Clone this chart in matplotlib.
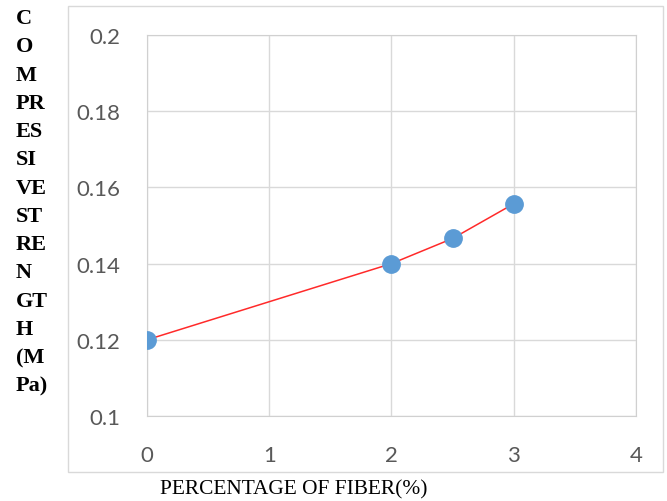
import numpy as np
import matplotlib.pyplot as plt
from matplotlib.patches import Rectangle

# fibre content (%) vs compressive strength (MPa)
fiber = [0, 2, 2.5, 3]
strength = [0.12, 0.14, 0.1466, 0.1557]

x_ticks = [0, 1, 2, 3, 4]
y_ticks = [0.1, 0.12, 0.14, 0.16, 0.18, 0.2]
y_tick_labels = ['0.1', '0.12', '0.14', '0.16', '0.18', '0.2']

fig = plt.figure(figsize=(6.67, 5.02), dpi=100)
fig.patch.set_facecolor('white')

# outer chart frame
fig.patches.append(Rectangle((0.102, 0.058), 0.892, 0.928, transform=fig.transFigure,
                             fill=False, edgecolor='#d9d9d9', linewidth=1))

ax = fig.add_axes([0.2204, 0.1693, 0.7331, 0.759])
ax.plot(fiber, strength, color='#ff2a2a', linewidth=1.1, zorder=2)
ax.plot(fiber, strength, 'o', color='#5b9bd5', markersize=12.5, zorder=3)

ax.set_xlim(0, 4)
ax.set_ylim(0.1, 0.2)
ax.set_xticks(x_ticks)
ax.set_yticks(y_ticks)
ax.set_yticklabels(y_tick_labels)
ax.grid(True, color='#d9d9d9', linewidth=1)
ax.set_axisbelow(True)
for s in ax.spines.values():
    s.set_color('#d0d0d0')
ax.tick_params(length=0, colors='#595959', labelsize=16, pad=19)
for lab in ax.get_xticklabels() + ax.get_yticklabels():
    lab.set_family('Lato')
ax.tick_params(axis='x', pad=21)

ylab = 'C\nO\nM\nPR\nES\nSI\nVE\nST\nRE\nN\nGT\nH\n(M\nPa)'
fig.text(0.024, 0.982, ylab, ha='left', va='top', family='Liberation Serif',
         fontweight='bold', fontsize=16, linespacing=1.55)
fig.text(0.44, 0.025, 'PERCENTAGE OF FIBER(%)', ha='center', va='center',
         family='Liberation Serif', fontsize=15.4)

plt.savefig('out.png', dpi=100)
